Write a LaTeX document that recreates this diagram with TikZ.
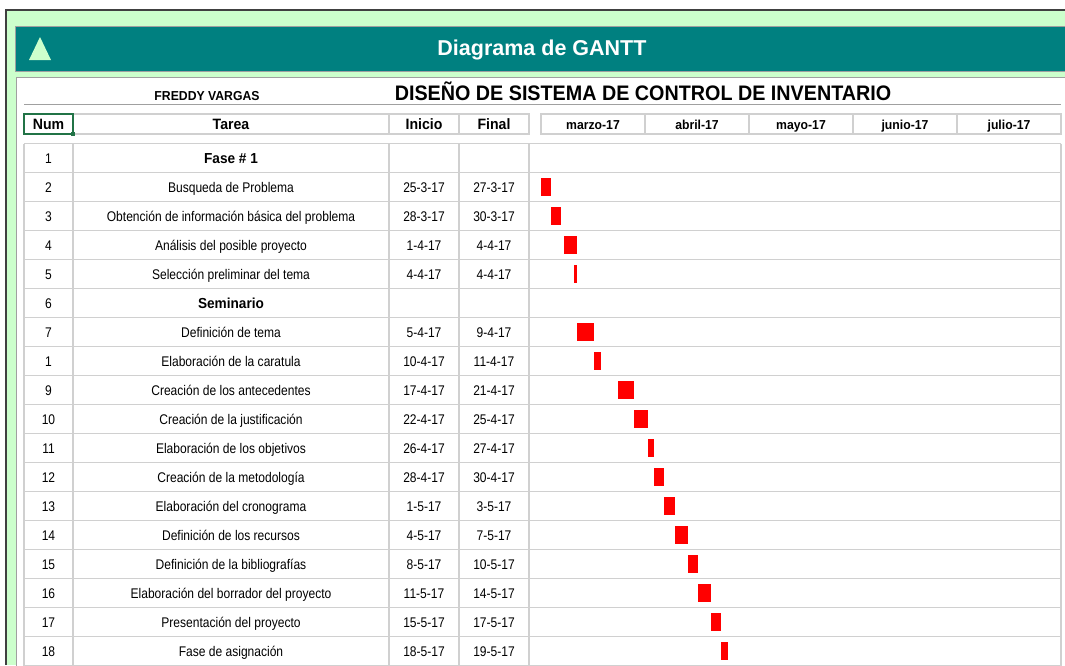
\documentclass[tikz,border=0pt]{standalone}
\usepackage{fontspec}
\setmainfont{Liberation Sans}
\newfontfamily\bodyfont{Liberation Sans}[FakeStretch=0.86]
\newfontfamily\headfont{Liberation Sans}[FakeStretch=0.94]
\newfontfamily\bannerfont{Liberation Sans}
\definecolor{teal}{RGB}{0,128,128}
\definecolor{mint}{RGB}{204,255,204}
\definecolor{gridgray}{RGB}{208,208,208}
\definecolor{rulegray}{RGB}{160,160,160}
\definecolor{framegray}{RGB}{64,64,64}
\definecolor{selgreen}{RGB}{33,115,70}
\definecolor{barred}{RGB}{255,0,0}

\begin{document}
\begin{tikzpicture}
[x = 1pt, y = -1pt,
every node/.style = {inner sep=0pt, text depth=0pt},
cell/.style = {font=\bodyfont\fontsize{14}{16}\selectfont, text height=10pt},
fase/.style = {font=\headfont\bfseries\fontsize{14.5}{17}\selectfont, text height=10.4pt},
head/.style = {font=\headfont\bfseries\fontsize{15}{17}\selectfont, text height=10.8pt},
month/.style = {font=\headfont\bfseries\fontsize{13}{15}\selectfont, text height=9.4pt},
grid/.style = {draw=gridgray, line width=1.5pt},
bar/.style = {fill=barred}]
\useasboundingbox (0,0) rectangle (1065,665);
\clip (0,0) rectangle (1065,665);
% frame and banner
\fill[mint] (6,10) rectangle (1065,665);
\draw[framegray, line width=1.5pt] (6,665) -- (6,10) -- (1065,10);
\fill[teal, draw=rulegray, line width=1pt] (15,26.5) rectangle (1066,71);
\fill[mint] (29,60) -- (51,60) -- (40,37) -- cycle;
\node[font=\bannerfont\bfseries\fontsize{21.5}{24}\selectfont, text=white, text height=15.5pt] (banner) at (542,48) {Diagrama de GANTT};
\fill[white, draw=rulegray, line width=1pt] (16,666) -- (16,77) -- (1066,77) -- (1066,666) -- cycle;
% titles
\node[font=\headfont\bfseries\fontsize{13}{15}\selectfont, text height=9.4pt] (autor) at (207,95.5) {FREDDY VARGAS};
\node[font=\headfont\bfseries\fontsize{21}{24}\selectfont, text height=15.1pt] (titulo) at (643,92.5) {DISEÑO DE SISTEMA DE CONTROL DE INVENTARIO};
\draw[rulegray, line width=1.5pt] (24,104.5) -- (1061,104.5);
% header row
\foreach \a/\b/\l in {24/73/Num,73/389/Tarea,389/459/Inicio,459/529/Final}{
\draw[grid] (\a,114) rectangle (\b,134);
\node[head] (h\l) at ({(\a+\b)/2},124) {\l};
}
\draw[selgreen, line width=1.5pt] (24,114) rectangle (73,134);
\fill[selgreen] (71,132) rectangle (75,136);
\foreach \m [count=\i from 0] in {marzo-17,abril-17,mayo-17,junio-17,julio-17}{
\draw[grid] ({541+104*\i},114) rectangle ({645+104*\i},134);
\node[month] (m\i) at ({593+104*\i},124.5) {\m};
}
% table grid
\foreach \k in {0,...,18}
\draw[grid] (24,{143.5+29*\k}) -- (1061,{143.5+29*\k});
\foreach \x in {24,73,389,459,529,1061}
\draw[grid] (\x,143.5) -- (\x,666);
% phase rows
\node[cell] (num1) at (48.5,158) {1};
\node[fase] (task1) at (231,158) {Fase \# 1};
\node[cell] (num6) at (48.5,303) {6};
\node[fase] (task6) at (231,303) {Seminario};
% task rows: row/num/task/start/end/day from/day to
\foreach \r/\n/\t/\s/\e/\da/\db in {
2/2/Busqueda de Problema/25-3-17/27-3-17/0/3,
3/3/Obtención de información básica del problema/28-3-17/30-3-17/3/6,
4/4/Análisis del posible proyecto/1-4-17/4-4-17/7/11,
5/5/Selección preliminar del tema/4-4-17/4-4-17/10/11,
7/7/Definición de tema/5-4-17/9-4-17/11/16,
8/1/Elaboración de la caratula/10-4-17/11-4-17/16/18,
9/9/Creación de los antecedentes/17-4-17/21-4-17/23/28,
10/10/Creación de la justificación/22-4-17/25-4-17/28/32,
11/11/Elaboración de los objetivos/26-4-17/27-4-17/32/34,
12/12/Creación de la metodología/28-4-17/30-4-17/34/37,
13/13/Elaboración del cronograma/1-5-17/3-5-17/37/40,
14/14/Definición de los recursos/4-5-17/7-5-17/40/44,
15/15/Definición de la bibliografías/8-5-17/10-5-17/44/47,
16/16/Elaboración del borrador del proyecto/11-5-17/14-5-17/47/51,
17/17/Presentación del proyecto/15-5-17/17-5-17/51/54,
18/18/Fase de asignación/18-5-17/19-5-17/54/56}{
\pgfmathsetmacro\y{129+29*\r}
\node[cell] (num\r) at (48.5,\y) {\n};
\node[cell] (task\r) at (231,\y) {\t};
\node[cell] (ini\r) at (424,\y) {\s};
\node[cell] (fin\r) at (494,\y) {\e};
\fill[bar] ({540.5+3.35*\da},\y-9) rectangle ({540.5+3.35*\db},\y+9);
}
\end{tikzpicture}
\end{document}
